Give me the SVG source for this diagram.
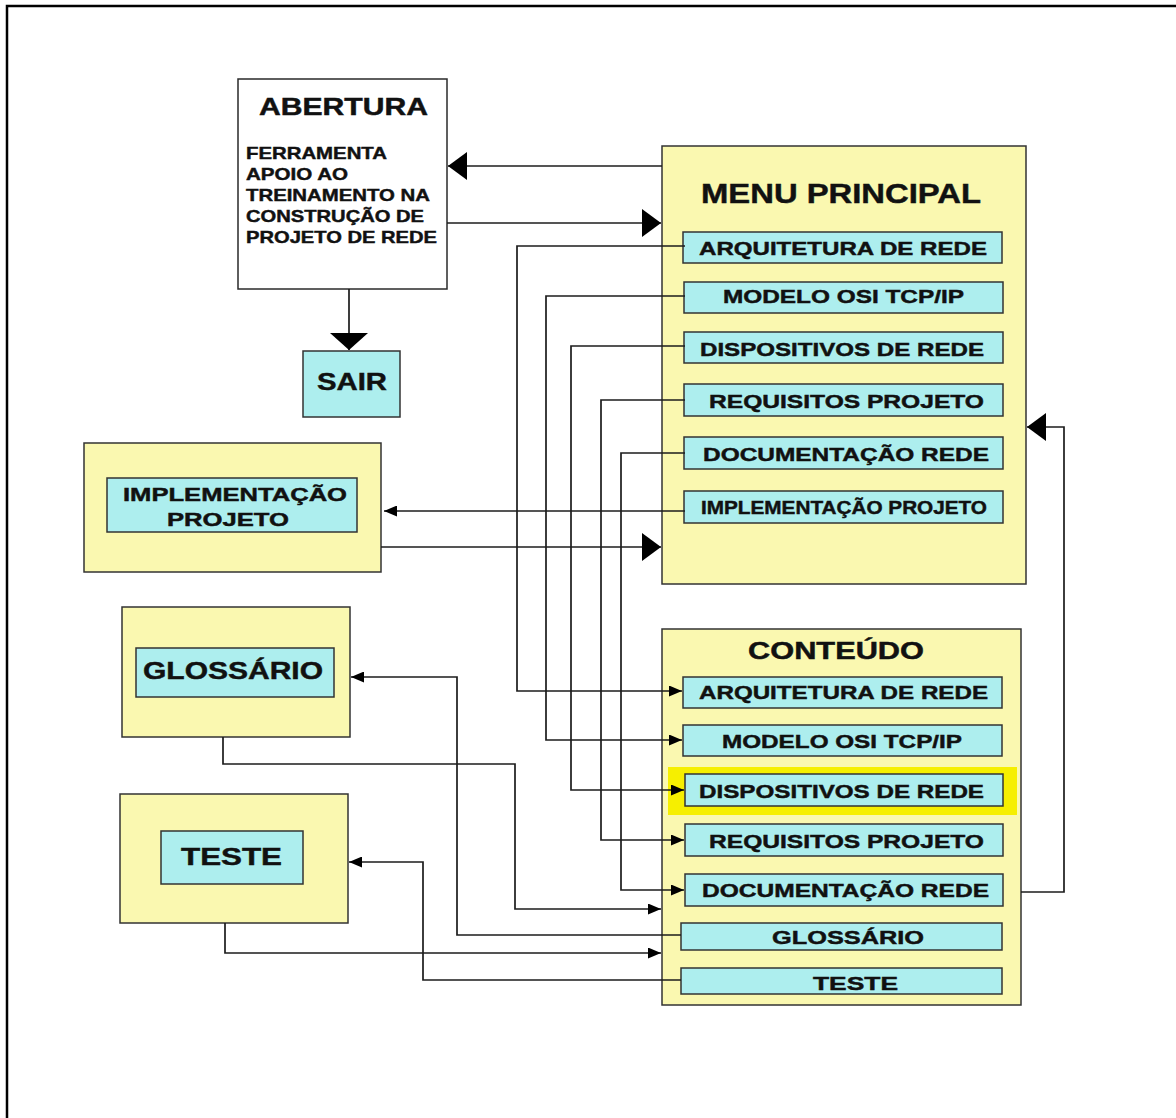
<svg xmlns="http://www.w3.org/2000/svg" width="1176" height="1118" viewBox="0 0 1176 1118">
  <style>
    .frame { fill: none; stroke: #000; stroke-width: 2.5; }
    .white { fill: #ffffff; stroke: #2a2a2a; stroke-width: 1.5; }
    .panel { fill: #faf8b0; stroke: #333; stroke-width: 1.5; }
    .item { fill: #adeeee; stroke: #333; stroke-width: 1.5; }
    .glow { fill: #f6ef00; }
    .link { fill: none; stroke: #1c1c1c; stroke-width: 1.7; }
    text { font-family: "Liberation Sans", Arial, sans-serif; font-weight: bold; fill: #111; stroke: #111; stroke-width: 0.45; }
    .t17 { font-size: 17px; }
    .t19 { font-size: 19px; }
    .t23 { font-size: 23px; }
    .t24 { font-size: 24px; }
    .t27 { font-size: 27px; }
  </style>
  <defs>
    <marker id="big" markerUnits="userSpaceOnUse" markerWidth="19" markerHeight="28" viewBox="0 0 19 28" refX="19" refY="14" orient="auto">
      <path d="M0,0 L19,14 L0,28 z" fill="#000"/>
    </marker>
    <marker id="wide" markerUnits="userSpaceOnUse" markerWidth="17" markerHeight="38" viewBox="0 0 17 38" refX="17" refY="19" orient="auto">
      <path d="M0,0 L17,19 L0,38 z" fill="#000"/>
    </marker>
    <marker id="small" markerUnits="userSpaceOnUse" markerWidth="13" markerHeight="11" viewBox="0 0 13 11" refX="13" refY="5.5" orient="auto">
      <path d="M0,0 L13,5.5 L0,11 z" fill="#000"/>
    </marker>
  </defs>

  <!-- page frame (top and left edges) -->
  <path class="frame" d="M7,1118 V6 H1176"/>

  <g id="abertura">
    <rect class="white" x="238" y="79" width="209" height="210"/>
    <text class="t23" x="259" y="115" textLength="169" lengthAdjust="spacingAndGlyphs">ABERTURA</text>
    <text class="t17" x="246" y="159" textLength="141" lengthAdjust="spacingAndGlyphs">FERRAMENTA</text>
    <text class="t17" x="246" y="180" textLength="102" lengthAdjust="spacingAndGlyphs">APOIO AO</text>
    <text class="t17" x="246" y="201" textLength="184" lengthAdjust="spacingAndGlyphs">TREINAMENTO NA</text>
    <text class="t17" x="246" y="222" textLength="178" lengthAdjust="spacingAndGlyphs">CONSTRUÇÃO DE</text>
    <text class="t17" x="246" y="243" textLength="191" lengthAdjust="spacingAndGlyphs">PROJETO DE REDE</text>
  </g>

  <g id="sair">
    <rect class="item" x="303" y="351" width="97" height="66"/>
    <text class="t24" x="317" y="390" textLength="70" lengthAdjust="spacingAndGlyphs">SAIR</text>
  </g>

  <g id="menu-principal">
    <rect class="panel" x="662" y="146" width="364" height="438"/>
    <text class="t27" x="701" y="203" textLength="280" lengthAdjust="spacingAndGlyphs">MENU PRINCIPAL</text>
    <rect class="item" x="683" y="232" width="319" height="31"/>
    <text class="t19" x="699" y="255" textLength="288" lengthAdjust="spacingAndGlyphs">ARQUITETURA DE REDE</text>
    <rect class="item" x="684" y="282" width="319" height="31"/>
    <text class="t19" x="723" y="303" textLength="241" lengthAdjust="spacingAndGlyphs">MODELO OSI TCP/IP</text>
    <rect class="item" x="684" y="332" width="319" height="31"/>
    <text class="t19" x="700" y="356" textLength="284" lengthAdjust="spacingAndGlyphs">DISPOSITIVOS DE REDE</text>
    <rect class="item" x="684" y="384" width="319" height="32"/>
    <text class="t19" x="709" y="408" textLength="275" lengthAdjust="spacingAndGlyphs">REQUISITOS PROJETO</text>
    <rect class="item" x="684" y="437" width="319" height="32"/>
    <text class="t19" x="703" y="461" textLength="286" lengthAdjust="spacingAndGlyphs">DOCUMENTAÇÃO REDE</text>
    <rect class="item" x="684" y="491" width="319" height="32"/>
    <text class="t19" x="701" y="514" textLength="286" lengthAdjust="spacingAndGlyphs">IMPLEMENTAÇÃO PROJETO</text>
  </g>

  <g id="conteudo">
    <rect class="panel" x="662" y="629" width="359" height="376"/>
    <text class="t23" x="748" y="659" textLength="176" lengthAdjust="spacingAndGlyphs">CONTEÚDO</text>
    <rect class="item" x="683" y="677" width="319" height="31"/>
    <text class="t19" x="699" y="699" textLength="289" lengthAdjust="spacingAndGlyphs">ARQUITETURA DE REDE</text>
    <rect class="item" x="683" y="725" width="319" height="31"/>
    <text class="t19" x="722" y="748" textLength="240" lengthAdjust="spacingAndGlyphs">MODELO OSI TCP/IP</text>
    <rect class="glow" x="668" y="767" width="349" height="48"/>
    <rect class="item" x="685" y="774" width="318" height="32"/>
    <text class="t19" x="699" y="798" textLength="285" lengthAdjust="spacingAndGlyphs">DISPOSITIVOS DE REDE</text>
    <rect class="item" x="685" y="824" width="318" height="32"/>
    <text class="t19" x="709" y="848" textLength="275" lengthAdjust="spacingAndGlyphs">REQUISITOS PROJETO</text>
    <rect class="item" x="685" y="874" width="318" height="32"/>
    <text class="t19" x="702" y="897" textLength="287" lengthAdjust="spacingAndGlyphs">DOCUMENTAÇÃO REDE</text>
    <rect class="item" x="681" y="923" width="321" height="27"/>
    <text class="t19" x="772" y="944" textLength="152" lengthAdjust="spacingAndGlyphs">GLOSSÁRIO</text>
    <rect class="item" x="681" y="968" width="321" height="26"/>
    <text class="t19" x="813" y="990" textLength="85" lengthAdjust="spacingAndGlyphs">TESTE</text>
  </g>

  <g id="implementacao">
    <rect class="panel" x="84" y="443" width="297" height="129"/>
    <rect class="item" x="107" y="478" width="250" height="54"/>
    <text class="t19" x="123" y="501" textLength="224" lengthAdjust="spacingAndGlyphs">IMPLEMENTAÇÃO</text>
    <text class="t19" x="167" y="526" textLength="122" lengthAdjust="spacingAndGlyphs">PROJETO</text>
  </g>

  <g id="glossario">
    <rect class="panel" x="122" y="607" width="228" height="130"/>
    <rect class="item" x="136" y="648" width="198" height="49"/>
    <text class="t24" x="143" y="679" textLength="180" lengthAdjust="spacingAndGlyphs">GLOSSÁRIO</text>
  </g>

  <g id="teste">
    <rect class="panel" x="120" y="794" width="228" height="129"/>
    <rect class="item" x="161" y="831" width="142" height="53"/>
    <text class="t24" x="181" y="865" textLength="101" lengthAdjust="spacingAndGlyphs">TESTE</text>
  </g>

  <g id="connectors">
    <!-- menu <-> abertura -->
    <path class="link" d="M662,166 H448" marker-end="url(#big)"/>
    <path class="link" d="M447,223 H661" marker-end="url(#big)"/>
    <!-- abertura -> sair -->
    <path class="link" d="M349,289 V350" marker-end="url(#wide)"/>
    <!-- menu items -> content items -->
    <path class="link" d="M685,246 H517 V691 H682" marker-end="url(#small)"/>
    <path class="link" d="M685,296 H546 V740 H682" marker-end="url(#small)"/>
    <path class="link" d="M685,346 H571 V790 H684" marker-end="url(#small)"/>
    <path class="link" d="M685,400 H601 V840 H684" marker-end="url(#small)"/>
    <path class="link" d="M685,453 H621 V890 H684" marker-end="url(#small)"/>
    <!-- menu <-> implementacao -->
    <path class="link" d="M685,511 H384" marker-end="url(#small)"/>
    <path class="link" d="M381,547 H661" marker-end="url(#big)"/>
    <!-- content documentacao -> menu -->
    <path class="link" d="M1021,892 H1064 V427 H1027" marker-end="url(#big)"/>
    <!-- glossario links -->
    <path class="link" d="M681,935 H457 V677 H351" marker-end="url(#small)"/>
    <path class="link" d="M223,737 V764 H515 V909 H661" marker-end="url(#small)"/>
    <!-- teste links -->
    <path class="link" d="M681,980 H423 V862 H349" marker-end="url(#small)"/>
    <path class="link" d="M225,923 V953 H661" marker-end="url(#small)"/>
  </g>
</svg>
